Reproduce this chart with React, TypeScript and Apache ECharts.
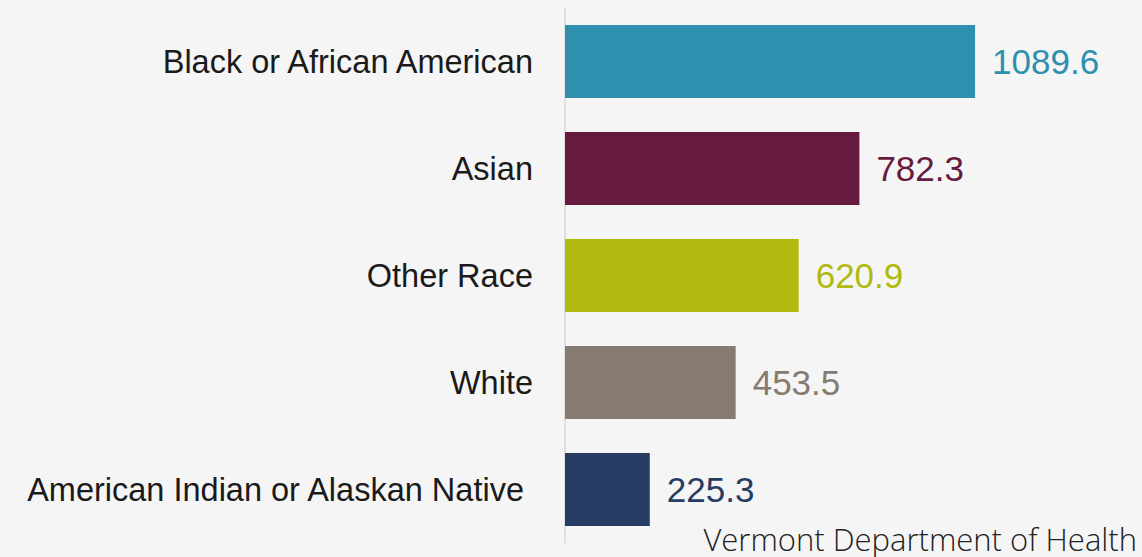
import React, { useEffect, useRef } from "react";
import * as echarts from "echarts";

const categories = [
  "Black or African American",
  "Asian",
  "Other Race",
  "White",
  "American Indian or Alaskan Native ",
];
const values = [1089.6, 782.3, 620.9, 453.5, 225.3];
const colors = ["#2e8faf", "#661a3e", "#b0ba0e", "#857b70", "#273c63"];
const sourceText = "Vermont Department of Health";

export default function App() {
  const ref = useRef<HTMLDivElement>(null);
  useEffect(() => {
    const chart = echarts.init(ref.current!, undefined, { renderer: "svg" });
    chart.setOption({
      animation: false,
      backgroundColor: "#f5f5f5",
      grid: { left: 565, right: 12.5, top: 8, bottom: 14, containLabel: false },
      xAxis: {
        type: "value",
        min: 0,
        max: 1500,
        show: false,
      },
      yAxis: {
        type: "category",
        inverse: true,
        data: categories,
        axisLine: { show: true, lineStyle: { color: "#d9d9d9", width: 1.5 } },
        axisTick: { show: false },
        axisLabel: {
          color: "#1a1a1a",
          fontFamily: "Liberation Sans, Arial, sans-serif",
          fontSize: 32.5,
          margin: 32,
        },
      },
      series: [
        {
          type: "bar",
          barCategoryGap: "32%",
          data: values.map((v, i) => ({
            value: v,
            itemStyle: { color: colors[i] },
            label: { color: colors[i] },
          })),
          label: {
            show: true,
            position: "right",
            distance: 17,
            fontFamily: "Liberation Sans, Arial, sans-serif",
            fontSize: 35,
            formatter: (p: any) => p.value.toFixed(1),
          },
        },
      ],
      graphic: [
        {
          type: "text",
          x: 1137,
          y: 539,
          style: {
            text: sourceText,
            align: "right",
            verticalAlign: "middle",
            fontFamily: "Open Sans, sans-serif",
            fontWeight: 300,
            fontSize: 31,
            fill: "#222222",
          },
        },
      ],
    });
    return () => chart.dispose();
  }, []);
  return (
    <div
      ref={ref}
      style={{ width: 1142, height: 557, position: "absolute", left: 0, top: 0 }}
    />
  );
}
